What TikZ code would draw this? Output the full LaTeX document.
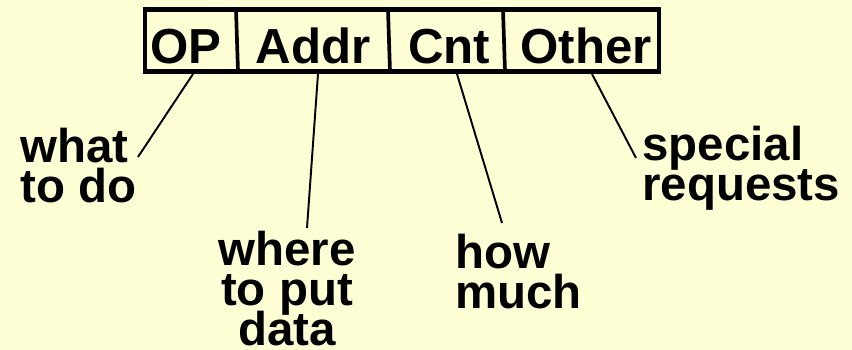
\documentclass[tikz,border=0pt]{standalone}
\usepackage{fontspec}
\setmainfont{Liberation Sans}
\usetikzlibrary{positioning}
\definecolor{paper}{HTML}{FFFFD5}

\begin{document}
\begin{tikzpicture}[
  x=0.02cm, y=-0.02cm,
  field/.style={inner sep=0pt, anchor=base,
                font={\fontsize{28}{23}\selectfont\bfseries}},
  note/.style={inner sep=0pt,
               font={\fontsize{27}{22.8}\selectfont\bfseries\lineskiplimit=-30pt}},
  frame/.style={line width=2.8pt},
  divider/.style={line width=2.1pt},
  pointer/.style={line width=1.1pt},
]

\fill[paper] (0,0) rectangle (852,350);
\useasboundingbox (0,0) rectangle (852,350);

% command word
\draw[frame] (145,9.5) rectangle (659,71.5);
\draw[divider] (236,9.5) -- (238,71.5);
\draw[divider] (388,9.5) -- (390,71.5);
\draw[divider] (503,9.5) -- (505,71.5);

\node[field] (op) at (186,64) {OP};
\node[field] (addr) at (313,64) {Addr};
\node[field] (cnt) at (449,64) {Cnt};
\node[field] (other) at (586,64) {Other};

% what each field means
\node[note, anchor=north west, align=left] (whatdo) at (20,128) {what\\to do};
\node[note, anchor=north, align=center] (where) at (287,231) {where\\to put\\data};
\node[note, anchor=north west, align=left] (howmuch) at (455,234) {how\\much};
\node[note, anchor=north west, align=left] (special) at (642,126) {special\\requests};

\coordinate (op-foot) at (193,74);
\coordinate (addr-foot) at (318,74);
\coordinate (cnt-foot) at (457,74);
\coordinate (other-foot) at (592,74);
\coordinate (whatdo-tip) at (138,157);
\coordinate (where-tip) at (307,228);
\coordinate (howmuch-tip) at (502,223);
\coordinate (special-tip) at (636,158);

\draw[pointer] (op-foot) -- (whatdo-tip);
\draw[pointer] (addr-foot) -- (where-tip);
\draw[pointer] (cnt-foot) -- (howmuch-tip);
\draw[pointer] (other-foot) -- (special-tip);

\end{tikzpicture}
\end{document}
